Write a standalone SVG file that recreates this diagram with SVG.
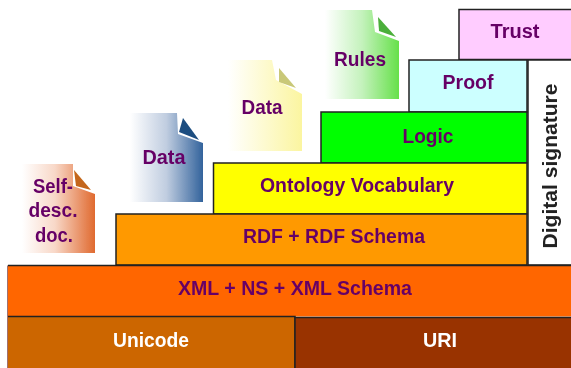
<svg xmlns="http://www.w3.org/2000/svg" width="571" height="368" viewBox="0 0 571 368">
<style>
.b{stroke:#222;stroke-width:1.5}
.n{stroke:#222;stroke-width:1.5;fill:none}
.e{stroke:#733;stroke-width:.7;fill:none}
text{font-family:"Liberation Sans",Arial,sans-serif;font-weight:700;text-anchor:middle;fill:#660066;font-size:20px;filter:url(#t)}
.l{fill:#fff}
.k{fill:#222}
</style>
<defs>
<linearGradient id="g1"><stop offset="0" stop-color="#fff"/><stop offset=".45" stop-color="#f8d8c8"/><stop offset="1" stop-color="#e06a30"/></linearGradient>
<linearGradient id="g2"><stop offset="0" stop-color="#fff"/><stop offset=".5" stop-color="#c0cde0"/><stop offset="1" stop-color="#33639c"/></linearGradient>
<linearGradient id="g3"><stop offset="0" stop-color="#fff"/><stop offset="1" stop-color="#fbf5a0"/></linearGradient>
<linearGradient id="g4"><stop offset="0" stop-color="#fff"/><stop offset=".5" stop-color="#c4f2bc"/><stop offset="1" stop-color="#66e04a"/></linearGradient>
<filter id="s" x="-10%" y="-10%" width="120%" height="120%"><feGaussianBlur stdDeviation="0.7"/></filter>
<filter id="t" x="-5%" y="-20%" width="110%" height="140%"><feGaussianBlur stdDeviation="0.35"/></filter>
</defs>
<rect width="571" height="368" fill="#fff"/>
<g id="doc-self">
<path filter="url(#s)" d="M22 164H73L73 186L95 194V253H22Z" fill="url(#g1)"/>
<path filter="url(#s)" d="M74 170L91 190L76 186Z" fill="#c4661a"/>
<text x="53" y="193" textLength="40" lengthAdjust="spacingAndGlyphs">Self-</text><text x="53" y="217" textLength="49" lengthAdjust="spacingAndGlyphs">desc.</text><text x="54" y="242" textLength="38" lengthAdjust="spacingAndGlyphs">doc.</text>
</g>
<g id="doc-data1">
<path filter="url(#s)" d="M130 113H177L178 134L203 143V202H130Z" fill="url(#g2)"/>
<path filter="url(#s)" d="M183 118L199 140L179 132Z" fill="#1f4e80"/>
<text x="164" y="164" textLength="43" lengthAdjust="spacingAndGlyphs">Data</text>
</g>
<g id="doc-data2">
<path filter="url(#s)" d="M228 60H272L276 80L302 94V151H228Z" fill="url(#g3)"/>
<path filter="url(#s)" d="M279 68L296 88L279 82Z" fill="#c9c878"/>
<text x="262" y="114" textLength="41" lengthAdjust="spacingAndGlyphs">Data</text>
</g>
<g id="doc-rules">
<path filter="url(#s)" d="M325 10H372L375 32L399 41V99H325Z" fill="url(#g4)"/>
<path filter="url(#s)" d="M378 17L396 37L379 31Z" fill="#4caf3a"/>
<text x="360" y="66" textLength="52" lengthAdjust="spacingAndGlyphs">Rules</text>
</g>
<g id="trust"><rect class="b" x="459" y="9.500" width="113" height="50" fill="#ffccff"/><text x="515" y="38" textLength="49" lengthAdjust="spacingAndGlyphs">Trust</text></g>
<g id="sig"><rect class="b" x="528" y="60" width="44" height="205" fill="#fff"/><text class="k" transform="translate(557 166) rotate(-90)" textLength="165" lengthAdjust="spacingAndGlyphs">Digital signature</text></g>
<g id="proof"><rect class="b" x="409" y="60" width="118" height="52" fill="#ccffff"/><text x="468" y="89" textLength="51" lengthAdjust="spacingAndGlyphs">Proof</text></g>
<g id="logic"><rect class="b" x="321" y="112" width="206" height="51" fill="#00ff00"/><text x="428" y="143" textLength="51" lengthAdjust="spacingAndGlyphs">Logic</text></g>
<g id="onto"><rect class="b" x="213.500" y="163" width="313.500" height="51" fill="#ffff00"/><text x="357" y="192" textLength="194" lengthAdjust="spacingAndGlyphs">Ontology Vocabulary</text></g>
<g id="rdf"><rect class="b" x="116" y="214" width="411" height="51" fill="#ff9900"/><text x="334" y="243" textLength="182" lengthAdjust="spacingAndGlyphs">RDF + RDF Schema</text></g>
<g id="xml"><rect x="8" y="265.500" width="564" height="51" fill="#ff6600"/><path class="n" d="M8 265.500H572"/><path class="e" d="M7.500 265.500V317"/><text x="295" y="295" textLength="234" lengthAdjust="spacingAndGlyphs">XML + NS + XML Schema</text></g>
<g id="unicode"><rect x="8" y="316.500" width="287" height="53" fill="#cc6600"/><path class="n" d="M8 316.500H295V369"/><path class="e" d="M7.500 317V369"/><text class="l" x="151" y="347" textLength="76" lengthAdjust="spacingAndGlyphs">Unicode</text></g>
<g id="uri"><rect x="295" y="317.500" width="278" height="52" fill="#993300"/><path class="n" d="M295 317.500H572M295 317V369"/><text class="l" x="440" y="347" textLength="34" lengthAdjust="spacingAndGlyphs">URI</text></g>
<g id="connectors"/>
</svg>
